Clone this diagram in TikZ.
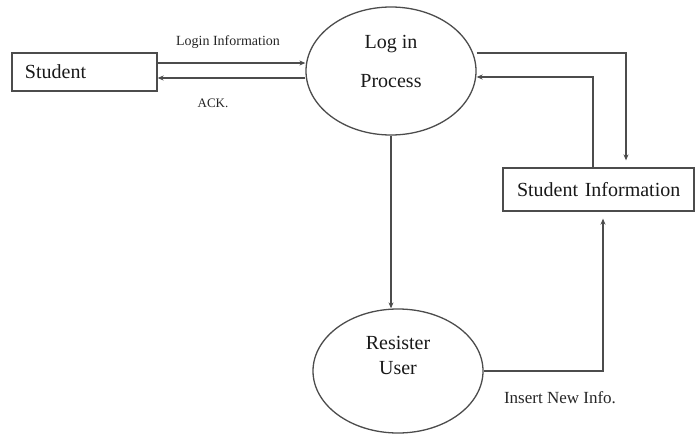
\documentclass[tikz,border=0pt]{standalone}
\usepackage{fontspec}
\setmainfont{Liberation Serif}
\usetikzlibrary{arrows.meta,shapes.geometric}
\begin{document}
\begin{tikzpicture}[x=1pt,y=-1pt,
  ink/.style={draw=black!70, line width=1.3pt},
  flow/.style={ink, -{Stealth[length=6pt,width=5pt]}},
  entity/.style={ink, rectangle, align=left, text=black!90,
    font=\fontsize{20}{24}\selectfont, inner sep=0pt},
  proc/.style={ink, ellipse, inner sep=0pt},
  proclabel/.style={align=center, text=black!90},
  flowlabel/.style={text=black!85, inner sep=0pt}]
\useasboundingbox (0,0) rectangle (695,434);

% external entity and data store
\node[entity, text width=145pt, minimum height=38pt]
  (student) at (84.5,72) {\hspace*{13pt}Student};
\node[entity, text width=191pt, minimum height=43pt]
  (sinfo) at (598.5,189.5) {\hspace*{14pt}Student Information};

% processes
\node[proc, minimum width=170pt, minimum height=128pt] (login) at (391,71) {};
\node[proclabel, font=\fontsize{20}{39}\selectfont] (logintext) at (391,61) {Log in\\Process};
\node[proc, minimum width=170pt, minimum height=124pt] (reg) at (398,371) {};
\node[proclabel, font=\fontsize{20}{25}\selectfont] (regtext) at (398,355) {Resister\\User};

% data flows
\draw[flow] (student.east |- 0,63) -- (login.west |- 0,63);
\draw[flow] (login.west |- 0,78) -- (student.east |- 0,78);
\draw[flow, shorten >=7pt] (login.east |- 0,53) -| ([xshift=27.5pt]sinfo.north);
\draw[flow] ([xshift=-5.5pt]sinfo.north) |- (login.east |- 0,77);
\draw[flow] (login.south) -- (login.south |- reg.north);
\draw[flow, shorten >=7pt] (reg.east) -| ([xshift=4.5pt]sinfo.south);

% flow labels
\node[flowlabel, font=\fontsize{14}{16}\selectfont] (lblogin) at (228,42) {Login Information};
\node[flowlabel, font=\fontsize{13}{15}\selectfont] (lback) at (213,103) {ACK.};
\node[flowlabel, font=\fontsize{17}{19}\selectfont] (lbinsert) at (560,398) {Insert New Info.};
\end{tikzpicture}
\end{document}
